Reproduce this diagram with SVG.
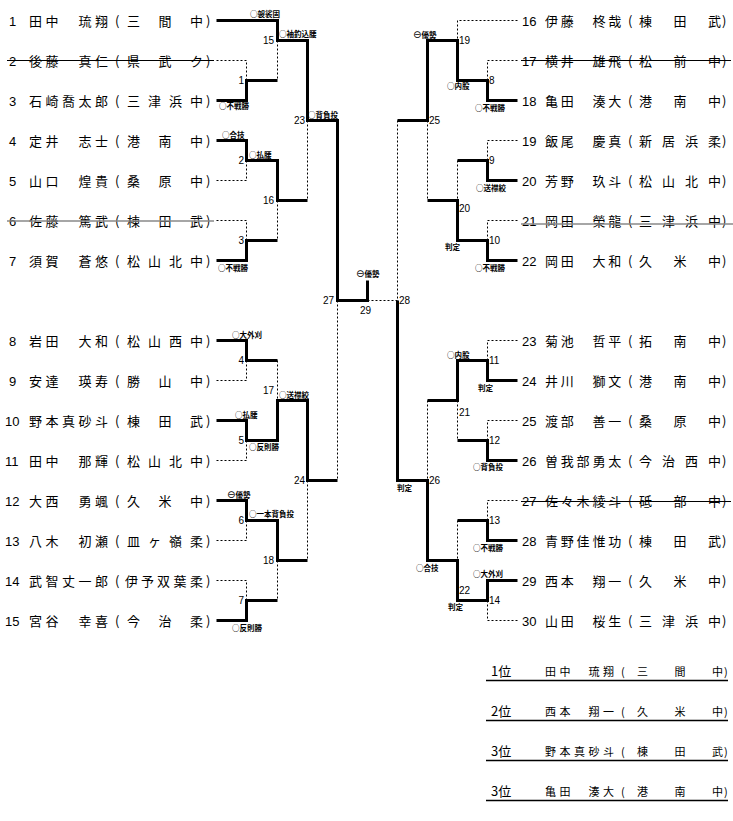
<svg xmlns="http://www.w3.org/2000/svg" width="733" height="821" viewBox="0 0 733 821">
<style>
.p{font-family:"Noto Sans CJK JP","Noto Sans CJK SC",sans-serif;font-size:13px;fill:#000}
.num{font-family:"Liberation Sans",sans-serif;font-size:13px;fill:#000}
.lb{font-family:"Noto Sans CJK JP","Noto Sans CJK SC",sans-serif;font-size:7.5px;font-weight:bold;fill:#000}
.sym{font-family:"DejaVu Sans",sans-serif;font-size:10px;font-weight:normal}
.n{font-family:"Liberation Sans",sans-serif;font-size:10px;fill:#000}
.ne{text-anchor:end}
.w{fill:none;stroke:#000;stroke-width:3;stroke-linejoin:miter}
.d{fill:none;stroke:#000;stroke-width:1;stroke-dasharray:2 2}
.sk{stroke:#000;stroke-width:1}
.sg{stroke:#888;stroke-width:1.6}
.ul{stroke:#000;stroke-width:1.5}
.r{font-family:"Noto Sans CJK JP","Noto Sans CJK SC",sans-serif;font-size:11px;fill:#000}
.rh{font-family:"Noto Sans CJK JP","Noto Sans CJK SC",sans-serif;font-size:13px;fill:#000}
</style>
<rect width="733" height="821" fill="#fff"/>

<g id="connectors" transform="translate(0.5,0.5)">
<!-- left top -->
<path class="w" d="M216 20 H277 V40 H307 V120 H337 V300 H367 V280"/>
<path class="w" d="M216 100 H246 V80 H277"/>
<path class="w" d="M216 140 H246 V160 H277 V200 H307"/>
<path class="w" d="M216 260 H246 V240 H277"/>
<path class="d" d="M216 60 H246 V80"/>
<path class="d" d="M277 40 V80"/>
<path class="d" d="M216 180 H246 V160"/>
<path class="d" d="M216 220 H246 V240"/>
<path class="d" d="M277 200 V240"/>
<path class="d" d="M307 120 V200"/>
<path class="d" d="M337 300 V480"/>
<path class="d" d="M367 300 H397"/>
<!-- left bottom -->
<path class="w" d="M216 340 H246 V360 H277"/>
<path class="w" d="M216 420 H246 V440 H277 V400 H307 V480 H337"/>
<path class="w" d="M216 500 H246 V520 H277 V560 H307"/>
<path class="w" d="M216 620 H246 V600 H277"/>
<path class="d" d="M216 380 H246 V360"/>
<path class="d" d="M216 460 H246 V440"/>
<path class="d" d="M277 360 V400"/>
<path class="d" d="M216 540 H246 V520"/>
<path class="d" d="M216 580 H246 V600"/>
<path class="d" d="M277 560 V600"/>
<path class="d" d="M307 480 V560"/>
<!-- right top -->
<path class="w" d="M517 100 H487 V80 H457 V40 H427 V120 H397"/>
<path class="w" d="M517 180 H487 V160 H457"/>
<path class="w" d="M517 260 H487 V240 H457 V200 H427"/>
<path class="d" d="M517 20 H457 V40"/>
<path class="d" d="M517 60 H487 V80"/>
<path class="d" d="M517 140 H487 V160"/>
<path class="d" d="M517 220 H487 V240"/>
<path class="d" d="M457 160 V200"/>
<path class="d" d="M427 120 V200"/>
<path class="d" d="M397 120 V300"/>
<!-- right bottom -->
<path class="w" d="M517 380 H487 V360 H457 V400 H427"/>
<path class="w" d="M517 460 H487 V440 H457"/>
<path class="w" d="M517 540 H487 V520 H457"/>
<path class="w" d="M517 580 H487 V600 H457 V560 H427 V480 H397 V300"/>
<path class="d" d="M517 340 H487 V360"/>
<path class="d" d="M517 420 H487 V440"/>
<path class="d" d="M457 400 V440"/>
<path class="d" d="M427 400 V480"/>
<path class="d" d="M517 500 H487 V520"/>
<path class="d" d="M457 520 V560"/>
<path class="d" d="M517 620 H487 V600"/>
</g>

<g id="match-labels">
<text class="lb" x="250" y="17">○袈裟固</text>
<text class="lb" x="279" y="37">○袖釣込腰</text>
<text class="lb" x="219" y="109">○不戦勝</text>
<text class="lb" x="308" y="118">○背負投</text>
<text class="lb" x="222" y="138">○合技</text>
<text class="lb" x="249" y="158">○払腰</text>
<text class="lb" x="218" y="271">○不戦勝</text>
<text class="lb" x="356" y="277"><tspan class="sym">⊖</tspan>優勢</text>
<text class="lb" x="232" y="338">○大外刈</text>
<text class="lb" x="279" y="398">○送襟絞</text>
<text class="lb" x="235" y="418">○払腰</text>
<text class="lb" x="249" y="450">○反則勝</text>
<text class="lb" x="227" y="498"><tspan class="sym">⊖</tspan>優勢</text>
<text class="lb" x="249" y="517">○一本背負投</text>
<text class="lb" x="232" y="631">○反則勝</text>
<text class="lb" x="413" y="38"><tspan class="sym">⊖</tspan>優勢</text>
<text class="lb" x="447" y="89">○内股</text>
<text class="lb" x="475" y="111">○不戦勝</text>
<text class="lb" x="476" y="191">○送襟絞</text>
<text class="lb" x="445" y="250">判定</text>
<text class="lb" x="475" y="271">○不戦勝</text>
<text class="lb" x="447" y="358">○内股</text>
<text class="lb" x="478" y="391">判定</text>
<text class="lb" x="473" y="470">○背負投</text>
<text class="lb" x="397" y="491">判定</text>
<text class="lb" x="473" y="551">○不戦勝</text>
<text class="lb" x="416" y="571">○合技</text>
<text class="lb" x="473" y="577">○大外刈</text>
<text class="lb" x="448" y="610">判定</text>
</g>

<g id="match-numbers">
<text class="n ne" x="244" y="84">1</text>
<text class="n ne" x="274" y="44">15</text>
<text class="n ne" x="244" y="164">2</text>
<text class="n ne" x="274" y="204">16</text>
<text class="n ne" x="305" y="124">23</text>
<text class="n ne" x="244" y="244">3</text>
<text class="n ne" x="334" y="304">27</text>
<text class="n" x="360" y="314">29</text>
<text class="n ne" x="244" y="364">4</text>
<text class="n ne" x="274" y="394">17</text>
<text class="n ne" x="244" y="444">5</text>
<text class="n ne" x="305" y="484">24</text>
<text class="n ne" x="244" y="524">6</text>
<text class="n ne" x="274" y="564">18</text>
<text class="n ne" x="244" y="604">7</text>
<text class="n" x="459" y="44">19</text>
<text class="n" x="489" y="84">8</text>
<text class="n" x="429" y="124">25</text>
<text class="n" x="489" y="164">9</text>
<text class="n" x="459" y="212">20</text>
<text class="n" x="489" y="244">10</text>
<text class="n" x="399" y="304">28</text>
<text class="n" x="489" y="364">11</text>
<text class="n" x="459" y="416">21</text>
<text class="n" x="489" y="444">12</text>
<text class="n" x="429" y="484">26</text>
<text class="n" x="489" y="524">13</text>
<text class="n" x="459" y="594">22</text>
<text class="n" x="489" y="604">14</text>
</g>

<!-- left entries -->
<g id="p1"><text class="num" x="9" y="26">1</text><text class="p" x="29 45.5 62 78.5 95 115 127 158.5 190 206" y="26">田中　琉翔(三間中)</text></g>
<g id="p2"><text class="num" x="9" y="66">2</text><text class="p" x="29 45.5 62 78.5 95 115 127 158.5 190 206" y="66">後藤　真仁(県武ク)</text><line class="sk" x1="7" y1="60.5" x2="214" y2="60.5"/></g>
<g id="p3"><text class="num" x="9" y="106">3</text><text class="p" x="29 45.5 62 78.5 95 115 127 148 169 190 206" y="106">石崎喬太郎(三津浜中)</text></g>
<g id="p4"><text class="num" x="9" y="146">4</text><text class="p" x="29 45.5 62 78.5 95 115 127 158.5 190 206" y="146">定井　志士(港南中)</text></g>
<g id="p5"><text class="num" x="9" y="186">5</text><text class="p" x="29 45.5 62 78.5 95 115 127 158.5 190 206" y="186">山口　煌貴(桑原中)</text></g>
<g id="p6"><text class="num" x="9" y="226">6</text><text class="p" x="29 45.5 62 78.5 95 115 127 158.5 190 206" y="226">佐藤　篤武(棟田武)</text><line class="sg" x1="7" y1="221" x2="214" y2="221"/></g>
<g id="p7"><text class="num" x="9" y="266">7</text><text class="p" x="29 45.5 62 78.5 95 115 127 148 169 190 206" y="266">須賀　蒼悠(松山北中)</text></g>
<g id="p8"><text class="num" x="9" y="346">8</text><text class="p" x="29 45.5 62 78.5 95 115 127 148 169 190 206" y="346">岩田　大和(松山西中)</text></g>
<g id="p9"><text class="num" x="9" y="386">9</text><text class="p" x="29 45.5 62 78.5 95 115 127 158.5 190 206" y="386">安達　瑛寿(勝山中)</text></g>
<g id="p10"><text class="num" x="5" y="426">10</text><text class="p" x="29 45.5 62 78.5 95 115 127 158.5 190 206" y="426">野本真砂斗(棟田武)</text></g>
<g id="p11"><text class="num" x="5" y="466">11</text><text class="p" x="29 45.5 62 78.5 95 115 127 148 169 190 206" y="466">田中　那輝(松山北中)</text></g>
<g id="p12"><text class="num" x="5" y="506">12</text><text class="p" x="29 45.5 62 78.5 95 115 127 158.5 190 206" y="506">大西　勇颯(久米中)</text></g>
<g id="p13"><text class="num" x="5" y="546">13</text><text class="p" x="29 45.5 62 78.5 95 115 127 148 169 190 206" y="546">八木　初瀬(皿ヶ嶺柔)</text></g>
<g id="p14"><text class="num" x="5" y="586">14</text><text class="p" x="29 45.5 62 78.5 95 115 125 141 157 173.5 190 206" y="586">武智丈一郎(伊予双葉柔)</text></g>
<g id="p15"><text class="num" x="5" y="626">15</text><text class="p" x="29 45.5 62 78.5 95 115 127 158.5 190 206" y="626">宮谷　幸喜(今治柔)</text></g>

<!-- right entries -->
<g id="p16"><text class="num" x="522" y="26">16</text><text class="p" x="545 560.8 576.6 592.4 608.2 628 639 673.5 708 722" y="26">伊藤　柊哉(棟田武)</text></g>
<g id="p17"><text class="num" x="522" y="66">17</text><text class="p" x="545 560.8 576.6 592.4 608.2 628 639 673.5 708 722" y="66">横井　雄飛(松前中)</text><line class="sk" x1="521" y1="60.5" x2="731" y2="60.5"/></g>
<g id="p18"><text class="num" x="522" y="106">18</text><text class="p" x="545 560.8 576.6 592.4 608.2 628 639 673.5 708 722" y="106">亀田　湊大(港南中)</text></g>
<g id="p19"><text class="num" x="522" y="146">19</text><text class="p" x="545 560.8 576.6 592.4 608.2 628 639 662 685 708 722" y="146">飯尾　慶真(新居浜柔)</text></g>
<g id="p20"><text class="num" x="522" y="186">20</text><text class="p" x="545 560.8 576.6 592.4 608.2 628 639 662 685 708 722" y="186">芳野　玖斗(松山北中)</text></g>
<g id="p21"><text class="num" x="522" y="226">21</text><text class="p" x="545 560.8 576.6 592.4 608.2 628 639 662 685 708 722" y="226">岡田　榮龍(三津浜中)</text><line class="sg" x1="521" y1="224" x2="733" y2="224"/></g>
<g id="p22"><text class="num" x="522" y="266">22</text><text class="p" x="545 560.8 576.6 592.4 608.2 628 639 673.5 708 722" y="266">岡田　大和(久米中)</text></g>
<g id="p23"><text class="num" x="522" y="346">23</text><text class="p" x="545 560.8 576.6 592.4 608.2 628 639 673.5 708 722" y="346">菊池　哲平(拓南中)</text></g>
<g id="p24"><text class="num" x="522" y="386">24</text><text class="p" x="545 560.8 576.6 592.4 608.2 628 639 673.5 708 722" y="386">井川　獅文(港南中)</text></g>
<g id="p25"><text class="num" x="522" y="426">25</text><text class="p" x="545 560.8 576.6 592.4 608.2 628 639 673.5 708 722" y="426">渡部　善一(桑原中)</text></g>
<g id="p26"><text class="num" x="522" y="466">26</text><text class="p" x="545 560.8 576.6 592.4 608.2 628 639 662 685 708 722" y="466">曽我部勇太(今治西中)</text></g>
<g id="p27"><text class="num" x="522" y="506">27</text><text class="p" x="545 560.8 576.6 592.4 608.2 628 639 673.5 708 722" y="506">佐々木綾斗(砥部中)</text><line class="sk" x1="521" y1="501.5" x2="731" y2="501.5"/></g>
<g id="p28"><text class="num" x="522" y="546">28</text><text class="p" x="545 560.8 576.6 592.4 608.2 628 639 673.5 708 722" y="546">青野佳惟功(棟田武)</text></g>
<g id="p29"><text class="num" x="522" y="586">29</text><text class="p" x="545 560.8 576.6 592.4 608.2 628 639 673.5 708 722" y="586">西本　翔一(久米中)</text></g>
<g id="p30"><text class="num" x="522" y="626">30</text><text class="p" x="545 560.8 576.6 592.4 608.2 628 639 662 685 708 722" y="626">山田　桜生(三津浜中)</text></g>

<!-- results -->
<g id="results">
<g id="rank1"><text class="rh" x="491" y="676">1位</text><text class="r" x="545 559.5 574 588.5 603 621 637 674.5 712 724" y="676">田中　琉翔(三間中)</text><line class="ul" x1="486" y1="680.5" x2="728" y2="680.5"/></g>
<g id="rank2"><text class="rh" x="491" y="716">2位</text><text class="r" x="545 559.5 574 588.5 603 621 637 674.5 712 724" y="716">西本　翔一(久米中)</text><line class="ul" x1="486" y1="720.5" x2="728" y2="720.5"/></g>
<g id="rank3a"><text class="rh" x="491" y="756">3位</text><text class="r" x="545 559.5 574 588.5 603 621 637 674.5 712 724" y="756">野本真砂斗(棟田武)</text><line class="ul" x1="486" y1="760.5" x2="728" y2="760.5"/></g>
<g id="rank3b"><text class="rh" x="491" y="796">3位</text><text class="r" x="545 559.5 574 588.5 603 621 637 674.5 712 724" y="796">亀田　湊大(港南中)</text><line class="ul" x1="486" y1="800.5" x2="728" y2="800.5"/></g>
</g>
</svg>
